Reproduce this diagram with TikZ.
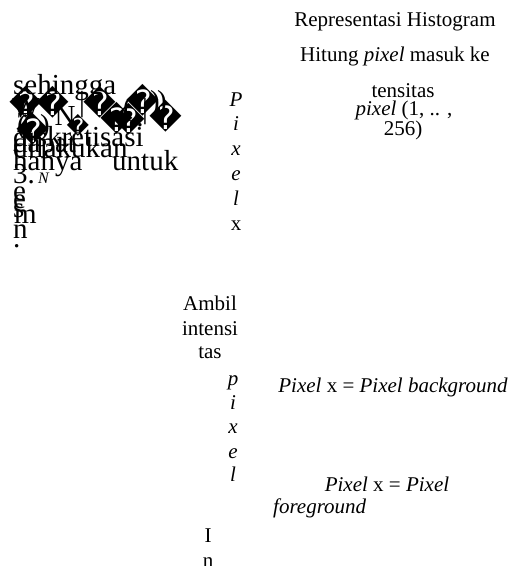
\documentclass[tikz,border=0pt]{standalone}
\usepackage{fontspec}
\setmainfont{Liberation Serif}
\newfontfamily\dvfont{DejaVu Sans}
\begin{document}
\begin{tikzpicture}[x=1pt,y=-1pt,
  txt/.style={inner sep=0pt,anchor=base,font=\fontsize{21}{24}\selectfont},
  vlet/.style={inner sep=0pt,anchor=base,font=\fontsize{21}{24}\selectfont\itshape},
  blob/.style={inner sep=0pt,anchor=base west,font=\fontsize{29}{30}\selectfont},
  blobc/.style={inner sep=0pt,anchor=center,font=\fontsize{29}{30}\selectfont},
  rep/.style={inner sep=0pt,anchor=center,font=\dvfont\fontsize{32}{32}\selectfont}]
\useasboundingbox (0,0) rectangle (516,566);

% right column
\node[txt] (t1) at (395,26) {Representasi Histogram};
\node[txt] (t2) at (395,61) {Hitung \textit{pixel} masuk ke};
\node[txt] (t3) at (403,97) {tensitas};
\node[txt] (t4) at (404,115) {\textit{pixel} (1, .. ,};
\node[txt] (t5) at (403,135) {256)};

% upper vertical column
\node[vlet] (v1) at (236,106) {P};
\node[vlet] (v2) at (236,130) {i};
\node[vlet] (v3) at (236,155) {x};
\node[vlet] (v4) at (236,180) {e};
\node[vlet] (v5) at (236,205) {l};
\node[txt]  (v6) at (236,230) {x};

% middle
\node[txt] (a1) at (210,310) {Ambil};
\node[txt] (a2) at (210,335) {intensi};
\node[txt] (a3) at (210,358) {tas};

% lower vertical column
\node[vlet] (w1) at (233,385) {p};
\node[vlet] (w2) at (233,409) {i};
\node[vlet] (w3) at (233,433) {x};
\node[vlet] (w4) at (233,458) {e};
\node[vlet] (w5) at (233,481) {l};
\node[txt]  (w6) at (208,542) {I};
\node[txt]  (w7) at (208,567) {n};

% conditions
\node[txt] (c1) at (393,392) {\textit{Pixel} x = \textit{Pixel background}};
\node[txt] (c2) at (387,491) {\textit{Pixel} x = \textit{Pixel}};
\node[txt,anchor=base west] (c3) at (273,513) {\textit{foreground}};

% left jumbled block
\node[blob] (b1) at (13,94) {sehingga};
\node[blobc] (b2) at (26,108) {W};
\node[blobc] (b3) at (65,116) {N};
\node[blobc] (b4) at (25,123) {Z};
\node[blobc] (b5) at (82,105) {|};
\node[blobc] (b6) at (128,110) {(};
\node[blobc] (b7) at (155,104) {)};
\node[blobc] (b8) at (162,104) {)};
\node[blobc] (b9) at (145,112) {|};
\node[blobc] (b10) at (22,128) {(};
\node[blobc] (b11) at (45,128) {)};
\node[blobc] (b12) at (140,125) {.};
\node[rep] (r1) at (26,102) {^^^^fffd};
\node[rep] (r2) at (53,102) {^^^^fffd};
\node[rep] (r3) at (100,102) {^^^^fffd};
\node[rep] (r4) at (143,100) {^^^^fffd};
\node[rep] (r5) at (166,116) {^^^^fffd};
\node[rep] (r6) at (117,118) {^^^^fffd};
\node[rep] (r7) at (129,119) {^^^^fffd};
\node[rep] (r8) at (33,129) {^^^^fffd};
\node[rep,font=\dvfont\fontsize{22}{22}\selectfont] (r9) at (78,125) {^^^^fffd};
\node[blob] (b13) at (13,146) {diskretisasi};
\node[blob] (b14) at (13,152) {dapat};
\node[blob] (b15) at (13,157) {dilakukan};
\node[blob] (b16) at (13,170) {hanya};
\node[blob] (b17) at (112,170) {untuk};
\node[blob] (b18) at (13,183) {3.};
\node[blob,font=\fontsize{16}{18}\selectfont\itshape] (b19) at (38,183) {N};
\node[blob] (b20) at (13,200) {e};
\node[blob] (b21) at (13,208) {e};
\node[blob] (b22) at (13,217) {s};
\node[blob] (b23) at (14,223) {m};
\node[blob] (b24) at (13,238) {n};
\node[blob] (b25) at (13,247) {.};
\end{tikzpicture}
\end{document}
